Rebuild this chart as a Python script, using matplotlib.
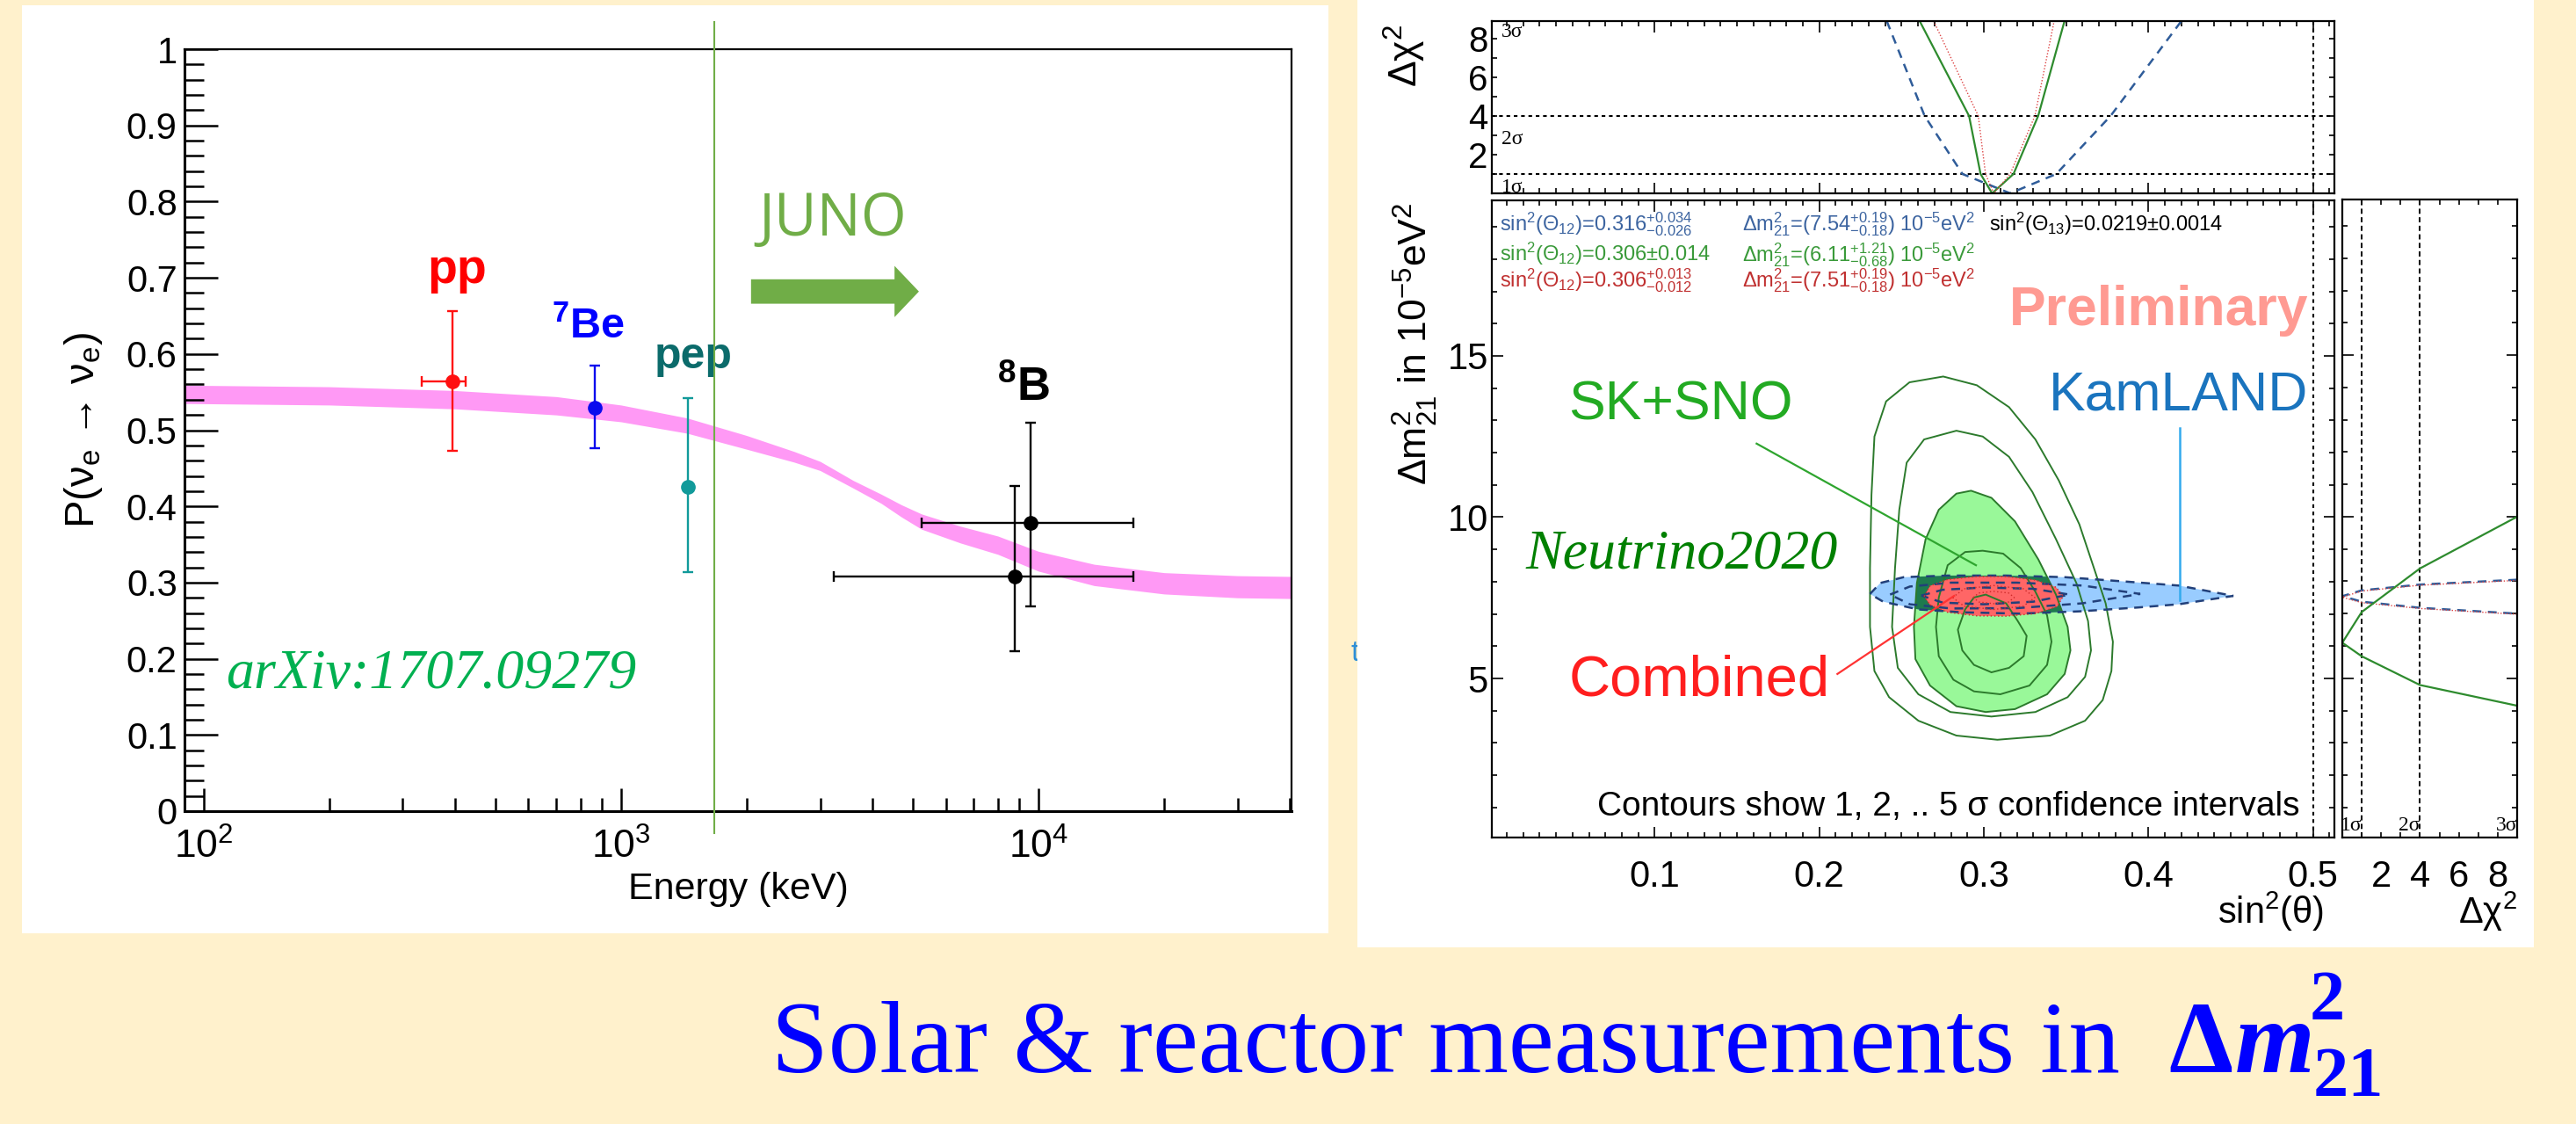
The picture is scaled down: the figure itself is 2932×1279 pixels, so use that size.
import numpy as np
import matplotlib
matplotlib.use("Agg")
import matplotlib.pyplot as plt
from matplotlib.patches import Polygon, Rectangle
from matplotlib.ticker import MultipleLocator, FixedLocator

plt.rcParams['font.family'] = ['Liberation Sans', 'DejaVu Sans']
plt.rcParams['mathtext.fontset'] = 'custom'
plt.rcParams['mathtext.rm'] = 'Liberation Sans'
plt.rcParams['mathtext.it'] = 'Liberation Sans:italic'
plt.rcParams['mathtext.bf'] = 'Liberation Sans:bold'
plt.rcParams['mathtext.sf'] = 'Liberation Sans'
plt.rcParams['mathtext.default'] = 'regular'

W, H, DPI = 2932, 1279, 100
BG = '#FFF1CC'

# ------------------------------------------------------------------ data
# Left panel: solar nu_e survival probability band (MSW-LMA)
band_E = [90, 200, 400, 700, 1000, 1440, 2000, 2600, 3000, 3600, 4200, 4700,
          5250, 6500, 8000, 10000, 13600, 20000, 30000, 40400]
band_lo = [0.535, 0.533, 0.528, 0.520, 0.511, 0.496, 0.475, 0.458, 0.447, 0.424,
           0.404, 0.386, 0.370, 0.352, 0.337, 0.315, 0.296, 0.285, 0.280, 0.279]
band_hi = [0.559, 0.557, 0.552, 0.544, 0.533, 0.516, 0.493, 0.472, 0.459, 0.434,
           0.416, 0.402, 0.390, 0.374, 0.361, 0.341, 0.324, 0.313, 0.309, 0.308]

flux_E = [395, 865, 1445, 9580, 8780]
flux_P = [0.564, 0.529, 0.426, 0.378, 0.308]
flux_P_lo = [0.473, 0.476, 0.314, 0.269, 0.210]
flux_P_hi = [0.656, 0.585, 0.542, 0.510, 0.427]
flux_E_lo = [333, 865, 1445, 5250, 3230]
flux_E_hi = [425, 865, 1445, 16900, 16900]
flux_colors = ['#FF1010', '#0A0AEE', '#119A9A', '#000000', '#000000']

src_labels = ['pp', r'$^{7}$Be', 'pep', r'$^{8}$B']
src_label_E = [404, 835, 1490, 9200]
src_label_P = [0.693, 0.6205, 0.581, 0.5386]
src_label_colors = ['#FF0000', '#0000FF', '#0B6B6B', '#000000']
src_label_sizes = [40, 35, 36, 38]

juno_E = 1672
juno_arrow_E = [2049, 5173]
juno_arrow_P = 0.682

yticks_left = [0, 0.1, 0.2, 0.3, 0.4, 0.5, 0.6, 0.7, 0.8, 0.9, 1.0]
yticklabels_left = ['0', '0.1', '0.2', '0.3', '0.4', '0.5', '0.6', '0.7', '0.8', '0.9', '1']
xticks_left = [100, 1000, 10000]
xticklabels_left = [r'$10^{2}$', r'$10^{3}$', r'$10^{4}$']
xminor_left = [200, 300, 400, 500, 600, 700, 800, 900,
               2000, 3000, 4000, 5000, 6000, 7000, 8000, 9000, 20000, 30000, 40000]

# Right panel: SK+SNO contours (sin^2 theta12, dm2_21 [1e-5 eV^2])
sno5_s = [0.2753, 0.2957, 0.3153, 0.3313, 0.3455, 0.3580, 0.3669, 0.3740, 0.3784, 0.3775,
          0.3722, 0.3615, 0.3402, 0.3082, 0.2833, 0.2602, 0.2424, 0.2335, 0.2308, 0.2308,
          0.2317, 0.2335, 0.2406, 0.2548]
sno5_m = [14.36, 14.09, 13.41, 12.41, 11.14, 9.78, 8.42, 7.33, 6.14, 5.23,
          4.33, 3.69, 3.23, 3.10, 3.23, 3.69, 4.42, 5.23, 6.60, 8.42,
          10.69, 12.50, 13.59, 14.18]
sno4_s = [0.2833, 0.2993, 0.3153, 0.3295, 0.3438, 0.3562, 0.3633, 0.3651, 0.3615, 0.3509,
          0.3313, 0.3046, 0.2797, 0.2602, 0.2477, 0.2442, 0.2460, 0.2486, 0.2531, 0.2637]
sno4_m = [12.68, 12.50, 11.87, 10.78, 9.32, 7.96, 6.78, 5.87, 5.05, 4.42,
          3.96, 3.82, 3.96, 4.51, 5.33, 6.60, 8.42, 10.23, 11.69, 12.41]
sno3_s = [0.2922, 0.3046, 0.3189, 0.3331, 0.3438, 0.3509, 0.3526, 0.3491, 0.3384, 0.3189,
          0.3011, 0.2833, 0.2673, 0.2584, 0.2575, 0.2593, 0.2646, 0.2726, 0.2833]
sno3_m = [10.82, 10.60, 9.87, 8.69, 7.60, 6.60, 5.87, 5.14, 4.51, 4.05,
          3.96, 4.14, 4.78, 5.60, 6.60, 7.96, 9.32, 10.23, 10.73]
sno2_s = [0.2993, 0.3117, 0.3224, 0.3313, 0.3384, 0.3411, 0.3384, 0.3277, 0.3100, 0.2940,
          0.2815, 0.2726, 0.2709, 0.2726, 0.2780, 0.2886]
sno2_m = [8.96, 8.87, 8.42, 7.69, 6.96, 6.14, 5.42, 4.78, 4.51, 4.60,
          4.96, 5.69, 6.60, 7.51, 8.51, 8.92]
sno1_s = [0.3011, 0.3135, 0.3206, 0.3260, 0.3242, 0.3153, 0.3046, 0.2940, 0.2869, 0.2842,
          0.2886, 0.2940]
sno1_m = [7.60, 7.33, 6.78, 6.32, 5.69, 5.33, 5.19, 5.42, 5.87, 6.51, 7.14, 7.51]

# KamLAND contours
kl3_s = [0.2308, 0.2371, 0.2513, 0.2780, 0.3135, 0.3491, 0.3846, 0.4184, 0.4516,
         0.4184, 0.3935, 0.3580, 0.3224, 0.2869, 0.2602, 0.2388]
kl3_m = [7.62, 7.96, 8.14, 8.19, 8.19, 8.14, 8.01, 7.88, 7.56,
         7.30, 7.20, 7.08, 7.01, 7.05, 7.14, 7.38]
kl2_s = [0.243, 0.255, 0.280, 0.320, 0.360, 0.395, 0.360, 0.320, 0.280, 0.255]
kl2_m = [7.60, 7.85, 7.97, 7.97, 7.88, 7.62, 7.33, 7.18, 7.17, 7.30]
kl1_s = [0.262, 0.275, 0.300, 0.330, 0.352, 0.330, 0.300, 0.275]
kl1_m = [7.57, 7.75, 7.82, 7.78, 7.60, 7.38, 7.30, 7.35]

# Combined contours
cb3_s = [0.2637, 0.2673, 0.2780, 0.2957, 0.3135, 0.3313, 0.3438, 0.3482, 0.3446, 0.3313,
         0.3135, 0.2957, 0.2780, 0.2673]
cb3_m = [7.55, 7.87, 8.07, 8.16, 8.16, 8.05, 7.83, 7.55, 7.23, 7.01,
         6.93, 6.94, 7.05, 7.28]
cb2_s = [0.281, 0.288, 0.306, 0.324, 0.331, 0.324, 0.306, 0.288]
cb2_m = [7.51, 7.78, 7.88, 7.78, 7.51, 7.24, 7.14, 7.24]
cb1_s = [0.2935, 0.297, 0.306, 0.315, 0.3185, 0.315, 0.306, 0.297]
cb1_m = [7.51, 7.65, 7.70, 7.65, 7.51, 7.37, 7.32, 7.37]

# Delta chi^2 profiles versus sin^2(theta12)
sno_prof_s = [0.261, 0.291, 0.298, 0.305, 0.318, 0.333, 0.349]
sno_prof_c = [8.9, 4.0, 1.0, 0.0, 1.0, 4.0, 8.9]
kl_prof_s = [0.241, 0.264, 0.287, 0.316, 0.344, 0.377, 0.420]
kl_prof_c = [8.9, 4.0, 1.0, 0.0, 1.0, 4.0, 8.9]
cb_prof_s = [0.2695, 0.2966, 0.301, 0.306, 0.316, 0.331, 0.3427]
cb_prof_c = [8.9, 4.0, 1.0, 0.0, 1.0, 4.0, 8.9]

# Delta chi^2 profiles versus dm2_21
sno_profm_c = [9.0, 4.0, 1.0, 0.0, 1.0, 4.0, 9.0]
sno_profm_m = [10.0, 8.4, 7.05, 6.1, 5.68, 4.79, 4.15]
kl_profm_c = [9.0, 4.0, 1.0, 0.0, 1.0, 4.0, 9.0]
kl_profm_m = [8.05, 7.90, 7.72, 7.54, 7.37, 7.18, 7.00]
cb_profm_c = [9.0, 4.0, 1.0, 0.0, 1.0, 4.0, 9.0]
cb_profm_m = [8.03, 7.88, 7.70, 7.51, 7.34, 7.16, 6.98]

fit_rows = [
    [r"sin$^{2}$($\Theta_{12}$)=0.316$^{+0.034}_{-0.026}$",
     r"$\Delta$m$^{2}_{21}$=(7.54$^{+0.19}_{-0.18}$) 10$^{-5}$eV$^{2}$"],
    [r"sin$^{2}$($\Theta_{12}$)=0.306±0.014",
     r"$\Delta$m$^{2}_{21}$=(6.11$^{+1.21}_{-0.68}$) 10$^{-5}$eV$^{2}$"],
    [r"sin$^{2}$($\Theta_{12}$)=0.306$^{+0.013}_{-0.012}$",
     r"$\Delta$m$^{2}_{21}$=(7.51$^{+0.19}_{-0.18}$) 10$^{-5}$eV$^{2}$"],
]
fit_row_colors = ['#3C64A0', '#3A9A3A', '#C03030']
theta13_text = r"sin$^{2}$($\Theta_{13}$)=0.0219±0.0014"

# ------------------------------------------------------------------ figure
fig = plt.figure(figsize=(W / DPI, H / DPI), dpi=DPI, facecolor=BG)


def white_box(l, t, r, b):
    fig.add_artist(Rectangle((l / W, 1 - b / H), (r - l) / W, (b - t) / H,
                             transform=fig.transFigure, facecolor='white',
                             edgecolor='none', zorder=-10))


def px_axes(l, t, r, b):
    return fig.add_axes([l / W, 1 - b / H, (r - l) / W, (b - t) / H])


def ftext(x, y, s, **kw):
    return fig.text(x / W, 1 - y / H, s, **kw)


# small artefact between the panels
ftext(1538, 752, 't', color='#2E8FD6', fontsize=24, zorder=-20)

white_box(25, 6, 1512, 1062)
white_box(1545, 0, 2884, 1078)

# ------------------------------------------------------------------ left panel
axL = px_axes(210, 56, 1470, 923)
axL.set_xscale('log')
axL.set_xlim(90, 40400)
axL.set_ylim(0, 1)
axL.fill_between(band_E, band_lo, band_hi, color='#FF99F5', lw=0, zorder=1)

for E, P, lo, hi, elo, ehi, c in zip(flux_E, flux_P, flux_P_lo, flux_P_hi,
                                      flux_E_lo, flux_E_hi, flux_colors):
    xerr = None if elo == ehi else [[E - elo], [ehi - E]]
    axL.errorbar([E], [P], yerr=[[P - lo], [hi - P]], xerr=xerr, fmt='o', color=c,
                 ms=11, elinewidth=1.7, capsize=4.5, capthick=1.7, zorder=3)

for s, E, P, c, fs in zip(src_labels, src_label_E, src_label_P, src_label_colors, src_label_sizes):
    axL.text(E, P, s, color=c, fontsize=fs, fontweight='bold', ha='center', va='baseline')

axL.plot([juno_E, juno_E], [-0.029, 1.036], color='#70AD47', lw=1.5, clip_on=False, zorder=4)
axL.annotate('', xy=(juno_arrow_E[1], juno_arrow_P), xytext=(juno_arrow_E[0], juno_arrow_P),
             arrowprops=dict(arrowstyle='simple,head_length=1.0,head_width=2.1,tail_width=1.0',
                             mutation_scale=20, color='#70AD47', shrinkA=0, shrinkB=0, lw=0))
axL.text(2140, 0.7555, 'JUNO', color='#70AD47', fontsize=48, family='Open Sans', va='baseline')
axL.text(113, 0.1615, 'arXiv:1707.09279', color='#00B050', fontsize=46,
         family='Liberation Serif', style='italic', va='baseline')

axL.set_yticks(yticks_left, labels=yticklabels_left)
axL.yaxis.set_minor_locator(MultipleLocator(0.02))
axL.set_xticks(xticks_left, labels=xticklabels_left)
axL.xaxis.set_minor_locator(FixedLocator(xminor_left))
axL.tick_params(axis='y', which='major', direction='in', length=27, width=1.8,
                labelsize=30, pad=6, right=False)
axL.tick_params(axis='y', which='minor', direction='in', length=16, width=1.8, right=False)
axL.tick_params(axis='x', which='major', direction='in', length=19, width=1.8,
                labelsize=32, pad=14, top=False)
axL.tick_params(axis='x', which='minor', direction='in', length=11, width=1.8, top=False)
axL.tick_params(axis='x', which='minor', labelbottom=False)
for sp in ['left', 'bottom']:
    axL.spines[sp].set_linewidth(2.2)
for sp in ['top', 'right']:
    axL.spines[sp].set_linewidth(1.6)
ftext(95, 489.5, r"P(ν$_{e}$ → ν$_{e}$)", rotation=90, ha='center',
      va='center', fontsize=34)
ftext(840, 1023, 'Energy (keV)', ha='center', va='baseline', fontsize=31)

# ------------------------------------------------------------------ right panel
S_LIM = (0.001, 0.513)
M_LIM = (0.07, 19.82)
axT = px_axes(1698, 24, 2657, 220)
axM = px_axes(1698, 228, 2657, 953)
axR = px_axes(2666, 227, 2865, 953)

for ax in (axT, axM, axR):
    for sp in ax.spines.values():
        sp.set_linewidth(1.6)
    ax.tick_params(which='both', direction='in', top=True, right=True, width=1.2,
                   labelsize=30, colors='black')
    ax.tick_params(which='major', length=9)
    ax.tick_params(which='minor', length=4.5)

# --- main contour plot
axM.set_xlim(*S_LIM)
axM.set_ylim(*M_LIM)
axM.xaxis.set_major_locator(MultipleLocator(0.1))
axM.xaxis.set_minor_locator(MultipleLocator(0.01))
axM.yaxis.set_major_locator(MultipleLocator(5))
axM.yaxis.set_minor_locator(MultipleLocator(1))
axM.tick_params(axis='x', pad=18)
axM.tick_params(axis='y', pad=3)
axM.xaxis.set_major_formatter(plt.FuncFormatter(lambda v, p: '%.1f' % v))

GREEN_LINE = '#2C7A2C'
g3 = Polygon(np.column_stack([sno3_s, sno3_m]), closed=True, facecolor='#99F899',
             edgecolor='none', zorder=1)
axM.add_patch(g3)
axM.add_patch(Polygon(np.column_stack([kl3_s, kl3_m]), closed=True, facecolor='#99CCFF',
                      edgecolor='none', zorder=2))
ov = Polygon(np.column_stack([kl3_s, kl3_m]), closed=True, facecolor='#1E7A4E',
             edgecolor='none', zorder=3)
axM.add_patch(ov)
ov.set_clip_path(g3)
axM.add_patch(Polygon(np.column_stack([cb3_s, cb3_m]), closed=True, facecolor='#FF6666',
                      edgecolor='none', zorder=4))
for cs, cm in [(sno5_s, sno5_m), (sno4_s, sno4_m), (sno3_s, sno3_m), (sno2_s, sno2_m),
               (sno1_s, sno1_m)]:
    axM.add_patch(Polygon(np.column_stack([cs, cm]), closed=True, fill=False,
                          edgecolor=GREEN_LINE, lw=1.4, zorder=5))
for cs, cm in [(kl3_s, kl3_m), (kl2_s, kl2_m), (kl1_s, kl1_m)]:
    axM.add_patch(Polygon(np.column_stack([cs, cm]), closed=True, fill=False,
                          edgecolor='#22407A', lw=1.8, ls=(0, (4, 3)), zorder=6))
for cs, cm in [(cb3_s, cb3_m), (cb2_s, cb2_m), (cb1_s, cb1_m)]:
    axM.add_patch(Polygon(np.column_stack([cs, cm]), closed=True, fill=False,
                          edgecolor='#CC2A2A', lw=1.0, ls=(0, (1, 2)), zorder=7))
axM.axvline(0.5, color='black', lw=1.5, ls=(0, (2, 2)), zorder=2)

# annotations
row_y = [18.87, 17.94, 17.13]
for (ta, tb), c, y in zip(fit_rows, fit_row_colors, row_y):
    axM.text(0.0056, y, ta, color=c, fontsize=17, va='baseline')
    axM.text(0.1533, y, tb, color=c, fontsize=17, va='baseline')
axM.text(0.3032, row_y[0], theta13_text, color='black', fontsize=17, va='baseline')
axM.text(0.3155, 15.95, 'Preliminary', color='#FF9A92', fontsize=45, fontweight='bold',
         va='baseline', zorder=8)
axM.text(0.3395, 13.31, 'KamLAND', color='#1A74BE', fontsize=45, va='baseline', zorder=8)
axM.plot([0.4189, 0.4189], [12.77, 7.43], color='#33AAEE', lw=1.8, zorder=8)
axM.text(0.0477, 13.01, 'SK+SNO', color='#22AA22', fontsize=45, va='baseline', zorder=8)
axM.plot([0.1619, 0.2952], [12.28, 8.51], color='#2FA52F', lw=1.6, zorder=8)
axM.text(0.0216, 8.41, 'Neutrino2020', color='#008000', fontsize=46,
         family='Liberation Serif', style='italic', va='baseline', zorder=8)
axM.text(0.0477, 4.46, 'Combined', color='#FF1E1E', fontsize=47, va='baseline', zorder=8)
axM.plot([0.211, 0.2819], [5.14, 7.56], color='#FF3333', lw=1.6, zorder=8)
axM.text(0.0653, 0.75, r'Contours show 1, 2, .. 5 σ confidence intervals', color='black',
         fontsize=28, va='baseline', zorder=8)

# --- top delta chi2 vs sin2
axT.set_xlim(*S_LIM)
axT.set_ylim(0, 8.9)
axT.xaxis.set_major_locator(MultipleLocator(0.1))
axT.xaxis.set_minor_locator(MultipleLocator(0.01))
axT.yaxis.set_major_locator(FixedLocator([2, 4, 6, 8]))
axT.yaxis.set_minor_locator(MultipleLocator(1))
axT.tick_params(axis='x', labelbottom=False)
axT.tick_params(axis='y', pad=3, labelsize=29)
axT.tick_params(axis='y', which='major', length=4.5)
axT.axhline(1, color='black', lw=1.5, ls=(0, (2, 2)))
axT.axhline(4, color='black', lw=1.5, ls=(0, (2, 2)))
axT.axvline(0.5, color='black', lw=1.5, ls=(0, (2, 2)))
axT.plot(kl_prof_s, kl_prof_c, color='#2F5C99', lw=1.8, ls=(0, (4, 3)))
axT.plot(sno_prof_s, sno_prof_c, color='#2E8B2E', lw=1.6)
axT.plot(cb_prof_s, cb_prof_c, color='#DD4444', lw=1.0, ls=(0, (1, 1.5)))
for lab, yv in zip(['3σ', '2σ', '1σ'], [8.8, 3.25, 0.75]):
    axT.text(0.0067, yv, lab, family='Liberation Serif', fontsize=17, va='top')

# --- right delta chi2 vs dm2
axR.set_xlim(0, 9)
axR.set_ylim(*M_LIM)
axR.xaxis.set_major_locator(FixedLocator([2, 4, 6, 8]))
axR.xaxis.set_minor_locator(MultipleLocator(1))
axR.yaxis.set_major_locator(MultipleLocator(5))
axR.yaxis.set_minor_locator(MultipleLocator(1))
axR.tick_params(axis='x', pad=18)
axR.tick_params(axis='x', which='major', length=4.5)
axR.tick_params(axis='y', labelleft=False)
axR.axvline(1, color='black', lw=1.4, ls=(0, (3, 2)))
axR.axvline(4, color='black', lw=1.4, ls=(0, (3, 2)))
axR.plot(kl_profm_c, kl_profm_m, color='#2F5C99', lw=1.8, ls=(0, (4, 3)))
axR.plot(cb_profm_c, cb_profm_m, color='#DD4444', lw=1.0, ls=(0, (1, 1.5)))
axR.plot(sno_profm_c, sno_profm_m, color='#2E8B2E', lw=1.6)
for lab, xv in zip(['1σ', '2σ', '3σ'], [1.0, 4.0, 9.0]):
    axR.text(xv, 0.15, lab, family='Liberation Serif', fontsize=17, ha='right', va='bottom')

# axis titles of the right panel
ftext(1611, 230, r"$\Delta$m$^{2}_{21}$ in 10$^{-5}$eV$^{2}$", rotation=90, ha='center',
      va='top', fontsize=32)
ftext(1599, 28, r"$\Delta\chi^{2}$", rotation=90, ha='center', va='top', fontsize=32)
ftext(2645, 1051, r"sin$^{2}$($\theta$)", ha='right', va='baseline', fontsize=30)
ftext(2865, 1051, r"$\Delta\chi^{2}$", ha='right', va='baseline', fontsize=30)

# ------------------------------------------------------------------ title
renderer = fig.canvas.get_renderer()
TITLE_C = '#0000FF'
t0 = ftext(878, 1220, 'Solar & reactor measurements in', fontsize=84,
           family='Liberation Serif', color=TITLE_C, va='baseline')
bb = t0.get_window_extent(renderer)
x = bb.x1 + 56
t1 = fig.text(x / W, (H - 1220) / H, 'Δ', fontsize=84, family='Liberation Serif',
              fontweight='bold', color=TITLE_C, va='baseline')
bb = t1.get_window_extent(renderer)
t2 = fig.text((bb.x1 + 2) / W, (H - 1220) / H, 'm', fontsize=84, family='Liberation Serif',
              fontweight='bold', style='italic', color=TITLE_C, va='baseline')
bb = t2.get_window_extent(renderer)
fig.text((bb.x1 - 6) / W, (H - 1160) / H, '2', fontsize=58, family='Liberation Serif',
         fontweight='bold', color=TITLE_C, va='baseline')
fig.text((bb.x1 - 2) / W, (H - 1247) / H, '21', fontsize=58, family='Liberation Serif',
         fontweight='bold', color=TITLE_C, va='baseline')

fig.savefig('out.png', dpi=DPI, facecolor=BG)
